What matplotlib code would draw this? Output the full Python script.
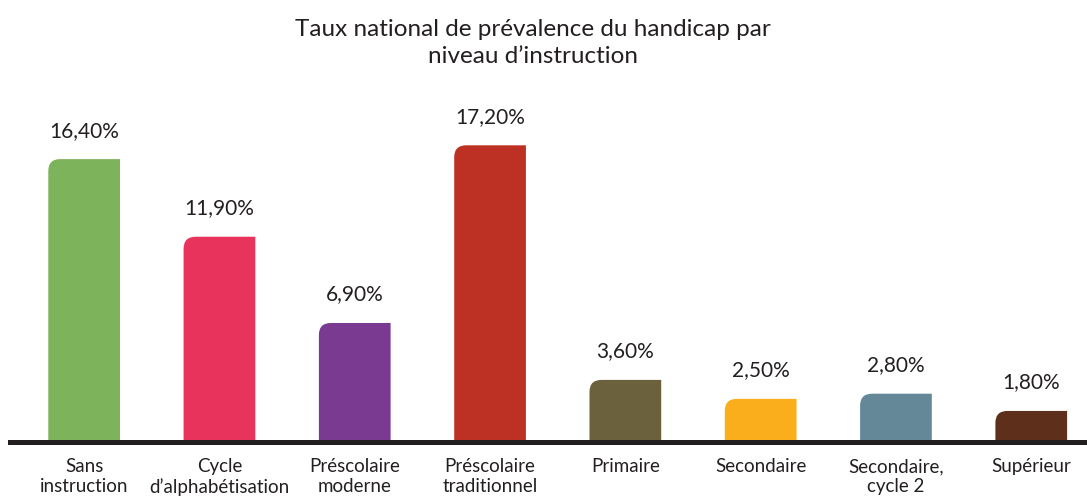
import matplotlib
matplotlib.use("Agg")
import matplotlib.pyplot as plt
from matplotlib.path import Path
from matplotlib.patches import PathPatch

plt.rcParams['font.family'] = ['Lato', 'DejaVu Sans']

# données
categories = ["Sans\ninstruction", "Cycle\nd’alphabétisation", "Préscolaire\nmoderne",
              "Préscolaire\ntraditionnel", "Primaire", "Secondaire",
              "Secondaire,\ncycle 2", "Supérieur"]
valeurs = [16.4, 11.9, 6.9, 17.2, 3.6, 2.5, 2.8, 1.8]
couleurs = ["#7DB35A", "#E8335D", "#7B3A92", "#BC3123",
            "#6B613C", "#FBAE1C", "#648898", "#5E2F1A"]

texte = "#231F20"
W, H = 1087, 502
fig = plt.figure(figsize=(W / 100, H / 100), dpi=100)
ax = fig.add_axes([10 / W, 59 / H, 1077 / W, 353 / H])

xs = list(range(len(valeurs)))
ax.set_xlim(-0.548, 7.412)
ax.set_ylim(0, 353 / 17.25)
largeur = 0.53

# rayon du coin arrondi (en pixels) converti en unités de données
px_x = ax.transData.transform((1, 0))[0] - ax.transData.transform((0, 0))[0]
px_y = ax.transData.transform((0, 1))[1] - ax.transData.transform((0, 0))[1]
rx, ry = 12 / px_x, 12 / px_y

for x, v, c in zip(xs, valeurs, couleurs):
    g, d = x - largeur / 2, x + largeur / 2
    verts = [(g, 0), (g, v - ry), (g, v), (g + rx, v), (d, v), (d, 0), (g, 0)]
    codes = [Path.MOVETO, Path.LINETO, Path.CURVE3, Path.CURVE3,
             Path.LINETO, Path.LINETO, Path.CLOSEPOLY]
    ax.add_patch(PathPatch(Path(verts, codes), facecolor=c, edgecolor='none'))
    ax.annotate(f"{v:.2f}%".replace('.', ','), (x, v), xytext=(0, 14),
                textcoords='offset points', ha='center', va='bottom',
                fontsize=15, color=texte)

ax.axhline(0, color=texte, lw=3.6, clip_on=False)

ax.set_xticks(xs)
ax.set_xticklabels(categories, fontsize=13.5, color=texte, linespacing=1.2)
ax.tick_params(axis='x', length=0, pad=11)
ax.set_yticks([])
for s in ax.spines.values():
    s.set_visible(False)

fig.text(0.49, 1 - 43 / H, "Taux national de prévalence du handicap par\nniveau d’instruction",
         ha='center', va='center', fontsize=17.5, color=texte, linespacing=1.35)

fig.savefig("out.png", dpi=100)
